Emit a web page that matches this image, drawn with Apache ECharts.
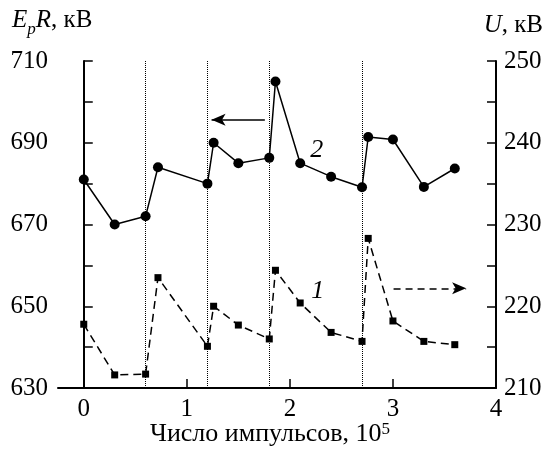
<!DOCTYPE html>
<html>
<head>
<meta charset="utf-8">
<script src="https://cdn.jsdelivr.net/npm/echarts@6/dist/echarts.min.js"></script>
<style>
  html, body { margin: 0; padding: 0; background: #fff; }
  #chart { width: 546px; height: 450px; }
</style>
</head>
<body>
<div id="chart"></div>
<script>
  // number of pulses, 10^5
  var pulses = [0, 0.3, 0.6, 0.72, 1.2, 1.26, 1.5, 1.8, 1.86, 2.1, 2.4, 2.7, 2.76, 3.0, 3.3, 3.6];
  // curve 2: EpR, kV (left axis)
  var eprValues = [681, 670, 672, 684, 680, 690, 685, 686.3, 705, 685, 681.7, 679.1, 691.4, 690.8, 679.2, 683.7];
  // curve 1: U, kV (right axis)
  var uValues = [217.8, 211.6, 211.7, 223.5, 215.1, 220, 217.7, 216, 224.4, 220.4, 216.8, 215.7, 228.3, 218.2, 215.7, 215.3];
  // dotted markers where the charge was renewed
  var breakPoints = [0.6, 1.2, 1.8, 2.7];
  var xTicks = [0, 1, 2, 3, 4];

  var font = 'Liberation Serif';
  var tickRich = { t: { fontFamily: font, fontSize: 25, color: '#000' } };

  function pairs(xs, ys) {
    var out = [];
    for (var i = 0; i < xs.length; i++) out.push([xs[i], ys[i]]);
    return out;
  }

  var option = {
    animation: false,
    textStyle: { fontFamily: font, color: '#000' },
    grid: { left: 58, right: 50, top: 61, bottom: 62, containLabel: false },
    xAxis: {
      type: 'value',
      min: -0.25,
      max: 4,
      axisLine: { lineStyle: { color: '#000', width: 2 } },
      axisTick: { inside: true, length: 9, customValues: xTicks, lineStyle: { color: '#000', width: 1.5 } },
      axisLabel: {
        customValues: xTicks, margin: 9, fontSize: 25, fontFamily: font, color: '#000',
        formatter: function (v) { return '{t|' + v + '}'; }, rich: tickRich
      },
      splitLine: { show: false }
    },
    yAxis: [{
      type: 'value',
      min: 630,
      max: 710,
      interval: 10,
      axisLine: { show: true, lineStyle: { color: '#000', width: 2 } },
      axisTick: { inside: true, length: 9, lineStyle: { color: '#000', width: 1.5 } },
      axisLabel: {
        margin: 10, fontSize: 25, fontFamily: font, color: '#000', rich: tickRich,
        formatter: function (v) { return (v - 630) % 20 === 0 ? '{t|' + v + '}' : ''; }
      },
      splitLine: { show: false }
    }, {
      type: 'value',
      position: 'right',
      min: 210,
      max: 250,
      interval: 5,
      axisLine: { show: true, lineStyle: { color: '#000', width: 2 } },
      axisTick: { inside: true, length: 9, lineStyle: { color: '#000', width: 1.5 } },
      axisLabel: {
        margin: 8, fontSize: 25, fontFamily: font, color: '#000', rich: tickRich,
        formatter: function (v) { return v % 10 === 0 ? '{t|' + v + '}' : ''; }
      },
      splitLine: { show: false }
    }],
    series: [
      {
        name: '2',
        type: 'line',
        yAxisIndex: 0,
        data: pairs(pulses, eprValues),
        symbol: 'circle',
        symbolSize: 10,
        itemStyle: { color: '#000' },
        lineStyle: { color: '#000', width: 1.5 },
        markLine: {
          silent: true,
          symbol: ['none', 'none'],
          label: { show: false },
          lineStyle: { color: '#000', type: 'dotted', width: 1 },
          data: breakPoints.map(function (x) { return { xAxis: x }; }).concat([
            [
              { coord: [1.757, 695.6], lineStyle: { type: 'solid', width: 1.5, color: '#000' } },
              { coord: [1.24, 695.6], symbol: 'arrow', symbolSize: [9, 14] }
            ]
          ])
        },
        markPoint: {
          silent: true,
          symbol: 'circle',
          symbolSize: 0,
          data: [{ coord: [2.26, 688.2], label: { show: true, formatter: '2', position: 'inside',
            fontStyle: 'italic', fontSize: 26, fontFamily: font, color: '#000' } }]
        }
      },
      {
        name: '1',
        type: 'line',
        yAxisIndex: 1,
        data: pairs(pulses, uValues),
        symbol: 'rect',
        symbolSize: 7,
        itemStyle: { color: '#000' },
        lineStyle: { color: '#000', width: 1.5, type: [8, 5] },
        markLine: {
          silent: true,
          symbol: ['none', 'none'],
          label: { show: false },
          data: [[
            { coord: [3.006, 222.2], lineStyle: { type: [7, 5], width: 1.5, color: '#000' } },
            { coord: [3.71, 222.2], symbol: 'arrow', symbolSize: [9, 14] }
          ]]
        },
        markPoint: {
          silent: true,
          symbol: 'circle',
          symbolSize: 0,
          data: [{ coord: [2.27, 221.8], label: { show: true, formatter: '1', position: 'inside',
            fontStyle: 'italic', fontSize: 26, fontFamily: font, color: '#000' } }]
        }
      }
    ],
    graphic: [
      {
        type: 'text', left: 12, top: 8,
        style: {
          text: '{i|E}{s|p}{i|R}{n|, кВ}',
          rich: {
            i: { fontFamily: font, fontSize: 25, fontStyle: 'italic', verticalAlign: 'bottom', padding: [0, 0, 5, 0] },
            s: { fontFamily: font, fontSize: 17, fontStyle: 'italic', verticalAlign: 'bottom', padding: [0, 0, 0, 0] },
            n: { fontFamily: font, fontSize: 25, verticalAlign: 'bottom', padding: [0, 0, 5, 0] }
          },
          fill: '#000'
        }
      },
      {
        type: 'text', right: 3, top: 13,
        style: {
          text: '{i|U}{n|, кВ}',
          rich: {
            i: { fontFamily: font, fontSize: 25, fontStyle: 'italic' },
            n: { fontFamily: font, fontSize: 25 }
          },
          fill: '#000'
        }
      },
      {
        type: 'text', left: 150, top: 421,
        style: {
          text: '{a|Число импульсов, 10}{b|5}',
          rich: {
            a: { fontFamily: font, fontSize: 26, verticalAlign: 'bottom' },
            b: { fontFamily: font, fontSize: 17, verticalAlign: 'bottom', padding: [0, 0, 9, 0] }
          },
          fill: '#000'
        }
      }
    ]
  };

  var chart = echarts.init(document.getElementById('chart'));
  chart.setOption(option);
</script>
</body>
</html>
